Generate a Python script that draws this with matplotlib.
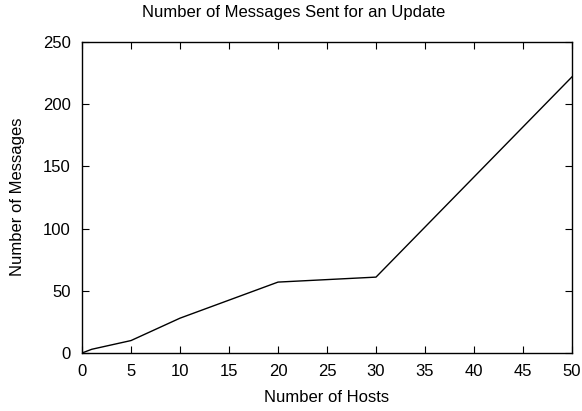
import matplotlib
matplotlib.use("Agg")
import matplotlib.pyplot as plt

# hosts vs messages sent for one update
hosts = [0, 1, 5, 10, 20, 30, 50]
messages = [0, 3, 10, 28, 57, 61, 222]

plt.rcParams['font.family'] = ['Liberation Sans', 'DejaVu Sans']
plt.rcParams['font.size'] = 11.5

fig = plt.figure(figsize=(5.82, 4.11), dpi=100)
ax = fig.add_axes([82/582, 1 - 353/411, (572-82)/582, (353-42)/411])
ax.plot(hosts, messages, color='black', linewidth=1)

ax.set_xlim(0, 50)
ax.set_ylim(0, 250)
ax.set_xticks(range(0, 51, 5))
ax.set_yticks(range(0, 251, 50))
ax.tick_params(direction='in', top=True, right=True, length=5, width=0.8,
               labelsize=12)
ax.tick_params(axis='y', pad=8)
ax.tick_params(axis='x', pad=8)
for s in ax.spines.values():
    s.set_linewidth(1)

fig.text(294/582, 1 - 12/411, "Number of Messages Sent for an Update",
         ha='center', va='center', fontsize=12)
fig.text(0.5 * (82 + 572) / 582, 1 - 397/411, "Number of Hosts",
         ha='center', va='center', fontsize=12)
fig.text(18/582, 1 - 197/411, "Number of Messages", rotation=90,
         ha='center', va='center', fontsize=12)

fig.savefig("out.png")
